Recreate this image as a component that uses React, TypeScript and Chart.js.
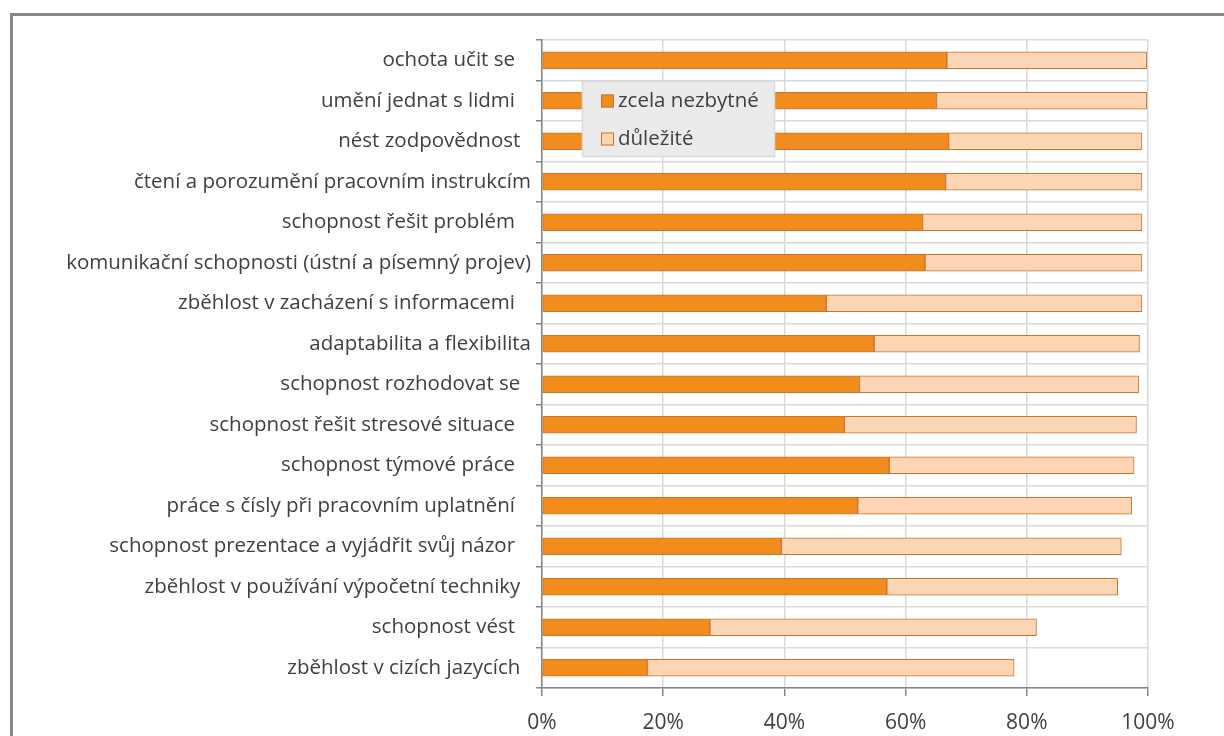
import React, { useEffect, useRef } from "react";
import { Chart, registerables } from "chart.js";

Chart.register(...registerables);

const categories = [
  "ochota učit se   ",
  "umění jednat s lidmi   ",
  "nést zodpovědnost  ",
  "čtení a porozumění pracovním instrukcím",
  "schopnost řešit problém   ",
  "komunikační schopnosti (ústní a písemný projev)",
  "zběhlost v zacházení s informacemi   ",
  "adaptabilita a flexibilita",
  "schopnost rozhodovat se  ",
  "schopnost řešit stresové situace   ",
  "schopnost týmové práce   ",
  "práce s čísly při pracovním uplatnění   ",
  "schopnost prezentace a vyjádřit svůj názor   ",
  "zběhlost v používání výpočetní techniky  ",
  "schopnost vést   ",
  "zběhlost v cizích jazycích  ",
];

const zcelaNezbytne = [66.8, 65.1, 67.1, 66.6, 62.8, 63.2, 46.9, 54.8, 52.4, 49.9, 57.3, 52.1, 39.5, 56.9, 27.7, 17.4];
const dulezite = [33.0, 34.7, 31.9, 32.4, 36.2, 35.8, 52.1, 43.8, 46.1, 48.2, 40.4, 45.2, 56.1, 38.1, 53.9, 60.5];

const seriesNames = ["zcela nezbytné", "důležité"];
const xTicks = [0, 20, 40, 60, 80, 100];

const FONT = "'Open Sans', sans-serif";
const ORANGE = "#F28C1C";
const LIGHT = "#FCD5B4";
const BORDER = "#C47630";

const legendPlugin = {
  id: "floatLegend",
  afterDraw(chart: any) {
    const { ctx, chartArea } = chart;
    const x = chartArea.left + 40;
    const y = chartArea.top + 41;
    const w = 193;
    const h = 76;
    ctx.save();
    ctx.fillStyle = "#EBEBEB";
    ctx.fillRect(x, y, w, h);
    ctx.strokeStyle = "#D9D9D9";
    ctx.lineWidth = 1.5;
    ctx.strokeRect(x + 0.5, y + 0.5, w - 1, h - 1);
    const fills = [ORANGE, LIGHT];
    seriesNames.forEach((name, i) => {
      const cy = y + 20 + i * 38;
      ctx.fillStyle = fills[i];
      ctx.fillRect(x + 19, cy - 6.5, 13, 13);
      ctx.strokeStyle = BORDER;
      ctx.lineWidth = 1;
      ctx.strokeRect(x + 19.5, cy - 6, 12, 12);
      ctx.fillStyle = "#404040";
      ctx.font = `20.5px ${FONT}`;
      ctx.textBaseline = "middle";
      ctx.textAlign = "left";
      ctx.fillText(name, x + 36, cy);
    });
    ctx.restore();
  },
};

export default function App() {
  const ref = useRef<HTMLCanvasElement | null>(null);

  useEffect(() => {
    if (!ref.current) return;
    const chart = new Chart(ref.current, {
      type: "bar",
      data: {
        labels: categories,
        datasets: [
          {
            label: seriesNames[0],
            data: zcelaNezbytne,
            backgroundColor: ORANGE,
            borderColor: BORDER,
            borderWidth: 1,
            borderSkipped: false,
            barThickness: 17,
          },
          {
            label: seriesNames[1],
            data: dulezite,
            backgroundColor: LIGHT,
            borderColor: BORDER,
            borderWidth: 1,
            borderSkipped: false,
            barThickness: 17,
          },
        ],
      },
      options: {
        indexAxis: "y",
        responsive: false,
        animation: false,
        devicePixelRatio: 1,
        layout: { padding: { left: 0, right: 76, top: 40, bottom: 0 } },
        plugins: {
          legend: { display: false },
          tooltip: { enabled: false },
        },
        scales: {
          x: {
            stacked: true,
            min: 0,
            max: 100,
            afterBuildTicks: (scale: any) => {
              scale.ticks = xTicks.map((v) => ({ value: v }));
            },
            afterFit: (scale: any) => {
              scale.height = 48;
            },
            ticks: {
              callback: (v: any) => v + "%",
              color: "#404040",
              font: { family: FONT, size: 21 },
              padding: 14,
              maxRotation: 0,
            },
            grid: {
              color: "#D9D9D9",
              lineWidth: 1.5,
              tickColor: "#868686",
              tickLength: 8,
            },
            border: { display: true, color: "#868686", width: 1.5 },
          },
          y: {
            stacked: true,
            afterFit: (scale: any) => {
              scale.width = 542;
            },
            ticks: {
              color: "#404040",
              font: { family: FONT, size: 20.5 },
              padding: 5,
              autoSkip: false,
            },
            grid: {
              color: "#D9D9D9",
              lineWidth: 1.5,
              tickColor: "#868686",
              tickLength: 6,
              offset: true,
            },
            border: { display: true, color: "#868686", width: 1.5 },
          },
        },
      },
      plugins: [legendPlugin],
    });
    return () => chart.destroy();
  }, []);

  return (
    <div
      style={{
        position: "fixed",
        left: 0,
        top: 0,
        width: 1224,
        height: 736,
        overflow: "hidden",
        background: "#fff",
      }}
    >
      <div
        style={{
          position: "absolute",
          left: 10,
          top: 13,
          width: 1300,
          height: 800,
          border: "3px solid #878787",
          boxSizing: "border-box",
        }}
      />
      <canvas
        ref={ref}
        width={1224}
        height={736}
        style={{ position: "absolute", left: 0, top: 0, width: 1224, height: 736 }}
      />
    </div>
  );
}
